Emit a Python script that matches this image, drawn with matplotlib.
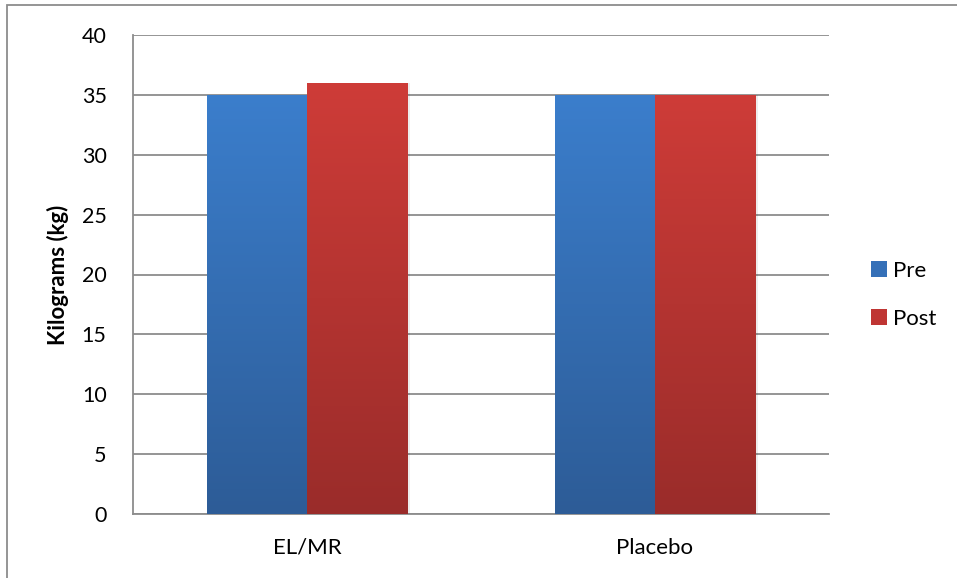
import numpy as np
import matplotlib.pyplot as plt
from matplotlib.colors import LinearSegmentedColormap
from matplotlib.patches import Rectangle

categories = ["EL/MR", "Placebo"]
series_names = ["Pre", "Post"]
pre_values = [35, 35]
post_values = [36, 35]
y_ticks = [0, 5, 10, 15, 20, 25, 30, 35, 40]

plt.rcParams['font.family'] = ['Lato', 'DejaVu Sans']

W, H = 957, 578
fig = plt.figure(figsize=(W / 100, H / 100), dpi=100)
ax = fig.add_axes([133 / W, 1 - 514 / H, (829 - 133) / W, (514 - 35) / H])

# gradient fills (bottom -> top)
blue_cmap = LinearSegmentedColormap.from_list("blue", ["#2D5C97", "#3B7ECC"])
red_cmap = LinearSegmentedColormap.from_list("red", ["#9A2C2A", "#CE3C38"])

x = np.arange(len(categories))
bar_w = 0.2875
grad = np.linspace(0, 1, 256).reshape(-1, 1)

def gradient_bar(xc, h, cmap):
    left = xc - bar_w / 2
    # soft shadow
    sh = Rectangle((left + 0.008, 0), bar_w, h, facecolor="#000000", alpha=0.07,
                   edgecolor="none", zorder=2)
    ax.add_patch(sh)
    rect = Rectangle((left, 0), bar_w, h, facecolor="none", edgecolor="none", zorder=3)
    ax.add_patch(rect)
    im = ax.imshow(grad, cmap=cmap, origin="lower", aspect="auto",
                   extent=(left, left + bar_w, 0, h), zorder=3, vmin=0, vmax=1)
    im.set_clip_path(rect)

for i in range(len(categories)):
    gradient_bar(x[i] - bar_w / 2, pre_values[i], blue_cmap)
    gradient_bar(x[i] + bar_w / 2, post_values[i], red_cmap)

ax.set_xlim(-0.5, 1.5)
ax.set_ylim(0, 40)
ax.set_yticks(y_ticks)
ax.set_yticklabels([str(v) for v in y_ticks], fontsize=15.5)
ax.set_xticks(x)
ax.set_xticklabels(categories, fontsize=16)
ax.tick_params(axis="x", length=0, pad=17)
ax.tick_params(axis="y", length=0, pad=19)
ax.yaxis.grid(True, color="#8C8C8C", linewidth=1.3, zorder=1)
ax.set_axisbelow(True)
for s in ["top", "right"]:
    ax.spines[s].set_visible(False)
for s in ["left", "bottom"]:
    ax.spines[s].set_color("#8C8C8C")
    ax.spines[s].set_linewidth(1.3)

ax.set_ylabel("Kilograms (kg)", fontsize=16, fontweight="bold", labelpad=9)

# legend
legend_colors = ["#3570B8", "#BF3533"]
legend_y = [269, 317]
for name, col, yy in zip(series_names, legend_colors, legend_y):
    fig.add_artist(Rectangle((871 / W, 1 - (yy + 8) / H), 16 / W, 16 / H,
                             transform=fig.transFigure, facecolor=col, edgecolor="none"))
    fig.text(893 / W, 1 - yy / H, name, fontsize=16, va="center_baseline", ha="left")

# chart border
fig.add_artist(Rectangle((6.5 / W, -0.05), 1.1, 1 - 5.5 / H + 0.05,
                         transform=fig.transFigure, fill=False, edgecolor="#8C8C8C",
                         linewidth=1.3))

fig.savefig("out.png", dpi=100)
